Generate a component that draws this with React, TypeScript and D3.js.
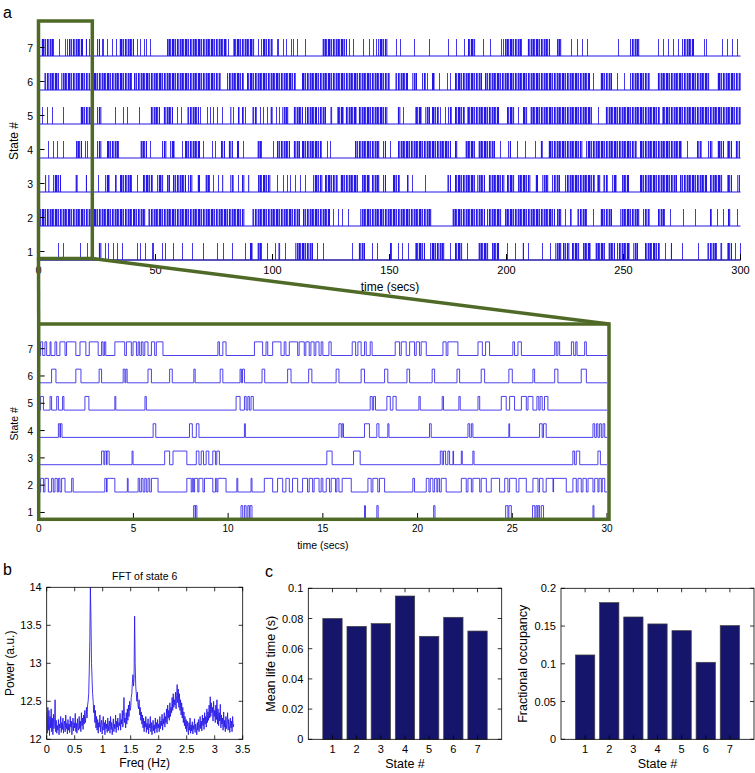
import React from 'react';
import * as d3 from 'd3';

// ---------- DATA ----------
const stateIds = [1, 2, 3, 4, 5, 6, 7];

// Overview (0-300 s): tokens "t" = single switch, "a-b" = dense burst of switches
const overviewState1 = "8.5 10.6 17.7 20.9 25.3-27 28.4 29.8 31.9 33.4 35.5 41.9 43.4 45.5 48.4 49.1 52.6 54.1 57.6 61.2 65.4 70.4 76.1 79 82.5 88.2 90.4-91.8 93.2-95.4 97.5 101 102.5-103.9 105.3 109.6-117.4 118.9 121.7 133.8 136.7-139.5 142.4 144.5 150.2-150.9 153.8 155.2 158 160.9-165.2 167.3-173.7 175.9 178-181.5 183 188-192.9 193.7-196.5 200.1 203.6 206.5-207.2 209.3 215 218.6 220.7-223.6 224.3-227.1 227.9-231.4 232.8-236.4 237.8-242.1 243.5-246.4 247.1-252.8 254.2-256.3 259.2-262 262.8-265.6 267.7 269.9-270.6 274.9 282 285.6-289.8 291.3-292.7 294.1-296.2 297.7 299.8";
const overviewState2 = "0.6-36.3 37-39.8 40.5-46.2 46.9-88.2 91.1-111.7 113.2-124.6 126 128.1 129.5 132.4 137.4-168 176.6-190.8 191.5-197.9 199.4-220.7 221.4-223.6 225 227.1-227.9 230-234.3 237.1 240-245 248.5-257 258.5-261.3 264.9-267.7 269.9 275.6 280.6 287-287.7 289.8 292.7 294.8-296.2 298.4";
const overviewState3 = "2.8-3.5 4.2-4.9 6.3-9.9 15.6-17 19.9-20.9 25.6 28.4-30.5 32.7-33.4 34.8-39.8 41.9 44.8-49.1 50.5-53.3 54.8-56.2 57.6-63.3 64-66.1 67.6-69 71.1-73.3 74.7 76.8 78.3-79 81.8-83.3 85.4 86.8-88.2 89.7-90.4 93.9-95.4 96.1-99.6 102.1 104.3 106 107.5 109.6 111.7 113.9 117.4-121.7 122.4-128.1 128.8-136.7 138.1-141.7 142.4-145.9 147.4-148.8 151.6-154.5 157.3-158 159.5 165.2 174.4-175.9 178-186.5 187.2-190.8 192.2-199.4 200.1-203.6 205.1-210.7 212.2-213.6 215-217.9 219.3-222.9 225-237.8 238.5-240 241.4-243.5 245-247.1 249.2-252.1 257-272.7 274.2-285.6 287-292.7 294.1-296.2 298.4-299.8";
const overviewState4 = "4.2 6.3 8 10.6 16-18.4 19.9 20.9 24.9-27 29.1-34.1 43.4-46.2 47.7 52.6-54.8 56.2-58.4 61.2 62.6-69 70.4 74 75.4 78.2-79.7 81.1-83.3 84.7-85.4 87.5 93.2-95.4 100.3 102-107.5 108.9-111.7 112.5-121 123.1 124.6 135.2-145.9 147.4-148.8 150.2 153.8-176.6 178-179.4 182.3-186.5 188-195.1 197.2 200.8-202.2 204.3 207.9 212.2 214.3-215.7 217.9-232.7 233.8-255.7 256.9-275 277 281.3-283.4 286.3-288.4 289.8-292.7 294.1-296.2 297.7-300";
const overviewState5 = "1.5 3.5 5.8 10.6 17.7-22.7 23.5 24.9-27 32.7 36.3 37.7 43.1 47.6-51.9 53.3-57.6 59 61 63.3-68.3 69 71.9 73.3 74.7 76.1 78.3 81.8-82.5 83.3 85.4-86.1 86.8-87.5 88.2 91.1-93.2 94.7 96.1 97.5 98.9-100.3 101.5 102.9 103.9-106.8 108.9-113.2 113.9-118.9 119.6-123.1 124.6-126 127.4-130.3 131-136 136.7-149.5 153-154.5 155.9 160.9-163.7 165.2-167.3 168-170.9 171.6 173.7 175.1-176.6 178-182.3 183-196.5 200.1-203.6 205.1 207.2-209.3 210-236.4 239.3 242.1-265.6 266.3-300";
const overviewState6 = "2.5-9 9.5-22 23.5-40 41-78.3 80.4-87.5 89.2-110.3 112.5-150.2 152.3-158 159.5-161.6 163.7-165.2 165.9 168-169.4 171.2 174.4 175.8 178-189.4 190.8-235.7 237.1 240-245 247.1 250 252.8-261.3 264.2-287 289.8-300";
const overviewState7 = "0.9-6.3 8.9 11.3 12 13.2-19.2 19.9-20.9 21.7 24.9-26 27 27.7 29.4 31.6 33 34.6-41.2 42.2 43.4 45 45.9 47.6 54.8-80.4 81 83.3-92.5 94 95 96.1-100.4 101.8 102.5 104.3 105.8 107.8 108.9 110.3 113.9 121-131.7 132.8 134.5 138.8 141.4 142.8 144.2 145.2-149.5 152.6 154.5 160.6 166.9 174.9 178.3 181.7 183.7-187.2 190.1 192.9 197.6 198.6 199.4-206.5 208.6-218.6 221.4-223.6 227.4 230 232.1 234.5 247.8 252.8-257 264.9 267 269.2 271.3 273.4 274.9-279.9 284.4 285.3 292 294.1 296.2 298.4";
const overviewEvents = [overviewState1, overviewState2, overviewState3, overviewState4, overviewState5, overviewState6, overviewState7];

// Zoomed (0-30 s): on-intervals "a-b" per state
const zoomState1 = "8.18-8.26 8.28-8.35 10.68-10.77 10.86-10.95 11.04-11.12 11.16-11.26 17.2-17.25 17.85-17.92 20.85-20.92 24.65-24.77 24.82-24.95 26.07-26.19 26.25-26.32 26.36-26.44 26.53-26.65 29.26-29.31";
const zoomState2 = "0.1-0.25 0.33-0.51 0.68-0.77 0.86-0.98 1.04-1.12 1.21-1.39 1.74-1.82 3.49-3.58 3.61-4.02 4.68-4.72 5.25-5.33 5.42-5.51 5.6-5.68 5.77-5.86 5.95-6.3 7.82-8.05 8.11-8.18 8.23-8.4 8.46-8.67 8.75-9.19 9.33-9.4 9.46-9.89 10.46-10.51 11.21-11.26 11.91-12.35 12.61-12.88 13.05-13.23 13.4-13.67 13.93-14.19 14.28-14.46 14.54-14.8 14.91-15.0 15.18-15.35 15.44-15.67 15.74-15.85 16.02-16.5 17.38-17.55 17.64-17.9 17.99-18.26 19.75-19.84 20.46-20.6 20.67-20.81 20.9-21.02 21.07-21.16 21.25-21.51 22.31-22.57 22.66-22.84 22.92-23.28 23.36-23.63 23.89-24.33 24.6-24.77 24.86-25.21 25.35-25.74 26.09-26.36 26.44-26.62 26.79-27.15 27.18-27.85 28.2-28.38 28.47-28.64 28.73-28.91 29.0-29.26 29.35-29.52 29.58-29.7 29.75-29.88";
const zoomState3 = "3.32-3.44 3.49-3.58 3.61-3.72 4.93-4.98 6.65-6.91 7.09-7.82 8.32-8.46 8.58-8.7 8.84-8.98 9.19-9.33 9.4-9.54 15.21-15.49 16.62-16.97 21.2-21.3 21.37-21.48 21.6-21.69 21.87-21.9 22.31-22.36 22.92-22.98 28.2-28.29 28.38-28.56 29.52-29.65";
const zoomState4 = "1.04-1.12 1.15-1.23 6.04-6.18 7.96-8.11 8.32-8.46 10.86-10.91 15.85-15.97 16.02-16.09 17.2-17.46 17.85-17.96 18.43-18.49 20.63-20.72 22.66-22.75 22.84-22.92 24.82-24.86 26.44-26.58 26.65-26.79 29.26-29.35 29.44-29.52 29.61-29.7 29.79-29.88";
const zoomState5 = "0.1-0.25 0.6-0.68 0.95-1.04 1.26-1.33 2.44-2.65 4.02-4.07 5.61-5.68 10.42-10.63 10.86-10.95 11.04-11.12 11.21-11.33 17.5-17.61 17.68-17.78 18.38-18.56 18.7-18.87 20.07-20.14 21.3-21.37 22.18-22.25 23.19-23.28 24.42-24.68 24.86-25.12 25.48-25.74 25.83-26.09 26.3-26.4 26.47-26.58 26.7-26.88";
const zoomState6 = "0.68-0.91 1.96-2.23 3.19-3.32 4.46-4.55 4.6-4.67 5.77-5.95 6.91-7.05 8.19-8.26 9.58-9.72 10.63-10.7 10.76-10.86 11.79-11.93 13.14-13.32 14.25-14.42 15.7-15.85 17.02-17.2 18.26-18.43 19.44-19.58 20.77-20.9 22.08-22.22 23.36-23.54 24.82-25.0 26.09-26.18 27.24-27.41 28.64-28.91";
const zoomState7 = "0.1-0.21 0.33-0.42 0.6-0.65 0.86-0.95 1.12-1.39 1.47-1.96 2.18-2.49 2.67-3.14 3.32-3.4 3.47-3.54 4.02-4.54 4.63-4.89 4.98-5.16 5.25-5.33 5.42-5.51 5.6-5.77 5.95-6.12 6.21-6.56 9.46-9.54 9.72-9.89 11.39-11.82 12.0-12.09 12.35-12.79 12.96-13.05 13.23-13.67 13.75-14.02 14.1-14.28 14.37-14.54 14.63-14.8 14.91-15.0 15.32-15.44 16.55-16.73 16.85-17.02 17.2-17.29 17.5-17.6 18.82-19.05 19.14-19.4 19.58-19.84 19.93-20.1 20.19-20.46 21.34-21.51 21.6-22.13 23.19-23.42 23.59-23.8 25.03-25.12 25.3-25.48 27.24-27.32 27.41-27.5 28.12-28.24 28.35-28.42 28.82-28.91";
const zoomIntervals = [zoomState1, zoomState2, zoomState3, zoomState4, zoomState5, zoomState6, zoomState7];

const overviewTicks = [0, 50, 100, 150, 200, 250, 300];
const zoomTicks = [0, 5, 10, 15, 20, 25, 30];

// FFT of state 6 (frequency bins of 0.01 Hz starting at 0)
const fftStep = 0.01;
const fftPower = [
  12.35, 12.08, 12.42, 12.12, 12.38, 12.05, 12.30, 12.15, 12.40, 12.10,
  12.28, 12.06, 12.33, 12.14, 12.22, 12.52, 12.10, 12.25, 12.08, 12.18,
  12.12, 12.26, 12.06, 12.20, 12.15, 12.30, 12.09, 12.22, 12.13, 12.28,
  12.08, 12.19, 12.24, 12.10, 12.32, 12.14, 12.21, 12.07, 12.26, 12.12,
  12.20, 12.09, 12.30, 12.16, 12.24, 12.06, 12.18, 12.28, 12.11, 12.22,
  12.15, 12.34, 12.10, 12.21, 12.08, 12.27, 12.16, 12.12, 12.30, 12.14,
  12.24, 12.10, 12.35, 12.18, 12.28, 12.13, 12.32, 12.20, 12.38, 12.22,
  12.30, 12.42, 12.28, 12.45, 12.50, 12.60, 12.90, 13.30, 14.00, 13.60,
  13.00, 12.80, 12.60, 12.50, 12.35, 12.45, 12.22, 12.38, 12.15, 12.30,
  12.12, 12.26, 12.08, 12.22, 12.16, 12.32, 12.10, 12.20, 12.25, 12.07,
  12.18, 12.30, 12.12, 12.22, 12.06, 12.25, 12.14, 12.20, 12.09, 12.28,
  12.11, 12.19, 12.24, 12.08, 12.30, 12.13, 12.22, 12.06, 12.17, 12.27,
  12.10, 12.20, 12.14, 12.32, 12.09, 12.24, 12.16, 12.28, 12.12, 12.22,
  12.18, 12.34, 12.12, 12.26, 12.20, 12.38, 12.16, 12.30, 12.55, 12.22,
  12.28, 12.15, 12.35, 12.20, 12.40, 12.25, 12.45, 12.30, 12.50, 12.38,
  12.42, 12.55, 12.60, 12.75, 12.85, 12.70, 12.80, 13.62, 13.00, 12.70,
  12.60, 12.50, 12.62, 12.45, 12.40, 12.52, 12.32, 12.42, 12.25, 12.36,
  12.20, 12.32, 12.15, 12.28, 12.10, 12.24, 12.16, 12.30, 12.09, 12.21,
  12.13, 12.27, 12.07, 12.20, 12.15, 12.30, 12.10, 12.22, 12.06, 12.18,
  12.25, 12.11, 12.19, 12.08, 12.28, 12.14, 12.22, 12.09, 12.26, 12.15,
  12.20, 12.10, 12.30, 12.14, 12.24, 12.18, 12.33, 12.12, 12.27, 12.20,
  12.35, 12.16, 12.30, 12.22, 12.40, 12.20, 12.45, 12.28, 12.38, 12.25,
  12.48, 12.30, 12.42, 12.35, 12.55, 12.38, 12.60, 12.42, 12.52, 12.45,
  12.62, 12.40, 12.58, 12.72, 12.48, 12.66, 12.42, 12.60, 12.38, 12.52,
  12.32, 12.48, 12.28, 12.42, 12.22, 12.36, 12.18, 12.30, 12.14, 12.26,
  12.10, 12.24, 12.16, 12.06, 12.22, 12.12, 12.28, 12.08, 12.19, 12.11,
  12.23, 12.07, 12.18, 12.13, 12.27, 12.09, 12.20, 12.15, 12.06, 12.22,
  12.12, 12.26, 12.10, 12.19, 12.30, 12.14, 12.24, 12.11, 12.32, 12.18,
  12.28, 12.13, 12.35, 12.20, 12.30, 12.16, 12.40, 12.22, 12.36, 12.25,
  12.45, 12.28, 12.56, 12.30, 12.48, 12.35, 12.42, 12.24, 12.50, 12.30,
  12.38, 12.22, 12.45, 12.26, 12.52, 12.20, 12.40, 12.18, 12.35, 12.24,
  12.46, 12.15, 12.32, 12.20, 12.28, 12.12, 12.36, 12.16, 12.25, 12.10,
  12.30, 12.14, 12.22, 12.35, 12.12, 12.26, 12.18, 12.09, 12.28, 12.15,
  12.24, 12.10, 12.30, 12.16, 12.20,
];
const fftXTicks = [0, 0.5, 1, 1.5, 2, 2.5, 3, 3.5];
const fftYTicks = [12, 12.5, 13, 13.5, 14];

const meanLifeTime = [0.080, 0.0748, 0.0766, 0.0949, 0.0682, 0.0808, 0.0717];
const lifeTicks = [0, 0.02, 0.04, 0.06, 0.08, 0.1];
const fractionalOccupancy = [0.1117, 0.181, 0.162, 0.1528, 0.1439, 0.102, 0.1506];
const occTicks = [0, 0.05, 0.1, 0.15, 0.2];

// ---------- helpers ----------
function parseEvents(s: string): [number, number][] {
  return s.trim().split(/\s+/).map((tok) => {
    const p = tok.split('-').map(Number);
    return (p.length === 2 ? [p[0], p[1]] : [p[0], p[0]]) as [number, number];
  });
}

const FONT = 'Liberation Sans, Arial, Helvetica, sans-serif';
const BLUE = '#2416e8';
const GREEN = '#4f6a27';
const snap = (v: number) => Math.round(v) + 0.5;
const stripeOpacity = [1, 0.85, 0.2, 1, 1, 0.5, 0.9, 0.1, 1, 0.7, 0.35, 0.95, 0.6];

function BoxAxes({ x0, x1, y0, y1, xs, ys, xTicks, yTicks, xFmt, yFmt, tickLen = 4 }: any) {
  return (
    <g>
      <rect x={x0} y={y1} width={x1 - x0} height={y0 - y1} fill="none" stroke="#000" strokeWidth={0.8} />
      {xTicks.map((t: number) => (
        <g key={'x' + t}>
          <line x1={xs(t)} x2={xs(t)} y1={y0} y2={y0 - tickLen} stroke="#000" strokeWidth={0.8} />
          <line x1={xs(t)} x2={xs(t)} y1={y1} y2={y1 + tickLen} stroke="#000" strokeWidth={0.8} />
          <text x={xs(t)} y={y0 + 14} textAnchor="middle" fontSize={11} fontFamily={FONT}>{xFmt(t)}</text>
        </g>
      ))}
      {yTicks.map((t: number) => (
        <g key={'y' + t}>
          <line x1={x0} x2={x0 + tickLen} y1={ys(t)} y2={ys(t)} stroke="#000" strokeWidth={0.8} />
          <line x1={x1} x2={x1 - tickLen} y1={ys(t)} y2={ys(t)} stroke="#000" strokeWidth={0.8} />
          <text x={x0 - 5} y={ys(t) + 4} textAnchor="end" fontSize={11} fontFamily={FONT}>{yFmt(t)}</text>
        </g>
      ))}
    </g>
  );
}

export default function App() {
  // ---- panel a overview ----
  const xA = d3.scaleLinear().domain([0, 300]).range([38.5, 740.5]);
  const yA = d3.scaleLinear().domain([0.75, 7.75]).range([260, 22]);
  // ---- panel a zoom ----
  const xB = d3.scaleLinear().domain([0, 30]).range([38.7, 607]);
  const yB = d3.scaleLinear().domain([0.75, 7.75]).range([519.3, 328.2]);
  const line = d3.line<[number, number]>().x((d) => d[0]).y((d) => d[1]);

  // ---- panel b ----
  const xF = d3.scaleLinear().domain([0, 3.5]).range([46.7, 242.7]);
  const yF = d3.scaleLinear().domain([12, 14]).range([739.3, 587.3]);
  const fftPath = line(fftPower.map((v, i) => [xF(i * fftStep), yF(v)] as [number, number]));

  // ---- panel c ----
  const xL = d3.scaleLinear().domain([0, 8]).range([308.3, 501.7]);
  const yL = d3.scaleLinear().domain([0, 0.1]).range([739.3, 588.3]);
  const xR = d3.scaleLinear().domain([0, 8]).range([561, 754]);
  const yR = d3.scaleLinear().domain([0, 0.2]).range([739.3, 588.3]);

  const boxTop = { x0: xA(0), x1: xA(23), y0: 258.5, y1: 21 };
  const boxZoom = { x0: xB(0), x1: 609, y0: 519.3, y1: 324 };

  return (
    <svg width={755} height={773} style={{ position: 'absolute', left: 0, top: 0, background: '#fff' }} fontFamily={FONT}>
      <defs>
        <pattern id="stripes" width={stripeOpacity.length} height={20} patternUnits="userSpaceOnUse">
          {stripeOpacity.map((o, i) => (
            <rect key={i} x={i} y={0} width={1} height={20} fill={BLUE} opacity={o} />
          ))}
        </pattern>
        <clipPath id="fftclip">
          <rect x={xF(0)} y={yF(14)} width={xF(3.5) - xF(0)} height={yF(12) - yF(14)} />
        </clipPath>
      </defs>
      <rect x={0} y={0} width={755} height={773} fill="#fff" />

      {/* ===== Panel a: overview ===== */}
      <text x={3} y={18} fontSize={16} fontFamily={FONT}>a</text>
      <line x1={xA(0)} x2={xA(300)} y1={260} y2={260} stroke="#222" strokeWidth={1} />
      {stateIds.map((k, i) => {
        const lo = yA(k - 0.25);
        const hi = yA(k + 0.25);
        const ev = parseEvents(overviewEvents[i]);
        return (
          <g key={'ov' + k}>
            {ev.map(([a, b], j) =>
              a === b ? (
                <line key={j} x1={snap(xA(a))} x2={snap(xA(a))} y1={lo} y2={hi} stroke={BLUE} strokeWidth={1} opacity={0.85} />
              ) : (
                <rect key={j} x={Math.round(xA(a))} y={hi} width={Math.max(1, Math.round(xA(b) - xA(a)))} height={lo - hi} fill="url(#stripes)" />
              )
            )}
            <line x1={xA(0)} x2={xA(300)} y1={lo} y2={lo} stroke={BLUE} strokeWidth={1.1} />
            <line x1={xA(0)} x2={xA(0) + 6} y1={yA(k)} y2={yA(k)} stroke="#000" strokeWidth={1} />
            <text x={33} y={yA(k) + 4} textAnchor="end" fontSize={10.5}>{k}</text>
          </g>
        );
      })}
      {overviewTicks.map((t) => (
        <g key={'ot' + t}>
          <line x1={xA(t)} x2={xA(t)} y1={260} y2={254} stroke="#000" strokeWidth={1} />
          <text x={xA(t)} y={274} textAnchor="middle" fontSize={11}>{t}</text>
        </g>
      ))}
      <text x={390} y={291} textAnchor="middle" fontSize={12}>time (secs)</text>
      <text transform={`translate(18,${yA(4.25)}) rotate(-90)`} textAnchor="middle" fontSize={12}>State #</text>

      {/* ===== Panel a: zoom ===== */}
      {stateIds.map((k, i) => {
        const lo = yB(k - 0.25);
        const hi = yB(k + 0.25);
        const pts: [number, number][] = [[xB(0), lo]];
        parseEvents(zoomIntervals[i]).forEach(([a, b]) => {
          pts.push([xB(a), lo], [xB(a), hi], [xB(b), hi], [xB(b), lo]);
        });
        pts.push([xB(30), lo]);
        return (
          <g key={'zm' + k}>
            <path d={line(pts) || ''} fill="none" stroke="#3a2cec" strokeWidth={1} opacity={0.9} />
            <line x1={xB(0)} x2={xB(0) + 6} y1={yB(k)} y2={yB(k)} stroke="#000" strokeWidth={1} />
            <text x={33} y={yB(k) + 4} textAnchor="end" fontSize={10}>{k}</text>
          </g>
        );
      })}
      {zoomTicks.map((t) => (
        <g key={'zt' + t}>
          <line x1={xB(t)} x2={xB(t)} y1={519} y2={513} stroke="#000" strokeWidth={1} />
          <text x={xB(t)} y={532} textAnchor="middle" fontSize={10}>{t}</text>
        </g>
      ))}
      <text x={xB(15)} y={549} textAnchor="middle" fontSize={10.5}>time (secs)</text>
      <text transform={`translate(18,${yB(4.25)}) rotate(-90)`} textAnchor="middle" fontSize={10.5}>State #</text>

      {/* ===== green zoom frames ===== */}
      <g fill="none" stroke={GREEN} strokeWidth={3.5}>
        <rect x={boxTop.x0} y={boxTop.y1} width={boxTop.x1 - boxTop.x0} height={boxTop.y0 - boxTop.y1} />
        <line x1={boxTop.x0} x2={boxZoom.x0} y1={boxTop.y0} y2={boxZoom.y1} />
        <line x1={boxTop.x1} x2={boxZoom.x1} y1={boxTop.y0} y2={boxZoom.y1} />
        <rect x={boxZoom.x0} y={boxZoom.y1} width={boxZoom.x1 - boxZoom.x0} height={boxZoom.y0 - boxZoom.y1} />
      </g>

      {/* ===== Panel b ===== */}
      <text x={3} y={575} fontSize={16}>b</text>
      <text x={(xF(0) + xF(3.5)) / 2} y={580} textAnchor="middle" fontSize={10.5}>FFT of state 6</text>
      <g clipPath="url(#fftclip)">
        <path d={fftPath || ''} fill="none" stroke={BLUE} strokeWidth={1} opacity={0.85} />
      </g>
      <BoxAxes x0={xF(0)} x1={xF(3.5)} y0={yF(12)} y1={yF(14)} xs={xF} ys={yF} xTicks={fftXTicks} yTicks={fftYTicks}
        xFmt={(t: number) => String(t)} yFmt={(t: number) => String(t)} />
      <text x={(xF(0) + xF(3.5)) / 2} y={767} textAnchor="middle" fontSize={12}>Freq (Hz)</text>
      <text transform={`translate(14,${(yF(12) + yF(14)) / 2}) rotate(-90)`} textAnchor="middle" fontSize={12}>Power (a.u.)</text>

      {/* ===== Panel c ===== */}
      <text x={265} y={577} fontSize={16}>c</text>
      {meanLifeTime.map((v, i) => (
        <rect key={'ml' + i} x={xL(stateIds[i] - 0.4)} y={yL(v)} width={xL(0.8) - xL(0)} height={yL(0) - yL(v)}
          fill="#15156b" stroke="#444" strokeWidth={0.7} />
      ))}
      <BoxAxes x0={xL(0)} x1={xL(8)} y0={yL(0)} y1={yL(0.1)} xs={xL} ys={yL} xTicks={stateIds} yTicks={lifeTicks}
        xFmt={(t: number) => String(t)} yFmt={(t: number) => String(+t.toFixed(2))} />
      <text x={(xL(0) + xL(8)) / 2} y={768} textAnchor="middle" fontSize={12.5}>State #</text>
      <text transform={`translate(275,${(yL(0) + yL(0.1)) / 2}) rotate(-90)`} textAnchor="middle" fontSize={12.5}>Mean life time (s)</text>

      {fractionalOccupancy.map((v, i) => (
        <rect key={'fo' + i} x={xR(stateIds[i] - 0.4)} y={yR(v)} width={xR(0.8) - xR(0)} height={yR(0) - yR(v)}
          fill="#15156b" stroke="#444" strokeWidth={0.7} />
      ))}
      <BoxAxes x0={xR(0)} x1={xR(8)} y0={yR(0)} y1={yR(0.2)} xs={xR} ys={yR} xTicks={stateIds} yTicks={occTicks}
        xFmt={(t: number) => String(t)} yFmt={(t: number) => String(+t.toFixed(2))} />
      <text x={(xR(0) + xR(8)) / 2} y={768} textAnchor="middle" fontSize={12.5}>State #</text>
      <text transform={`translate(527,${(yR(0) + yR(0.2)) / 2}) rotate(-90)`} textAnchor="middle" fontSize={12.5}>Fractional occupancy</text>
    </svg>
  );
}
